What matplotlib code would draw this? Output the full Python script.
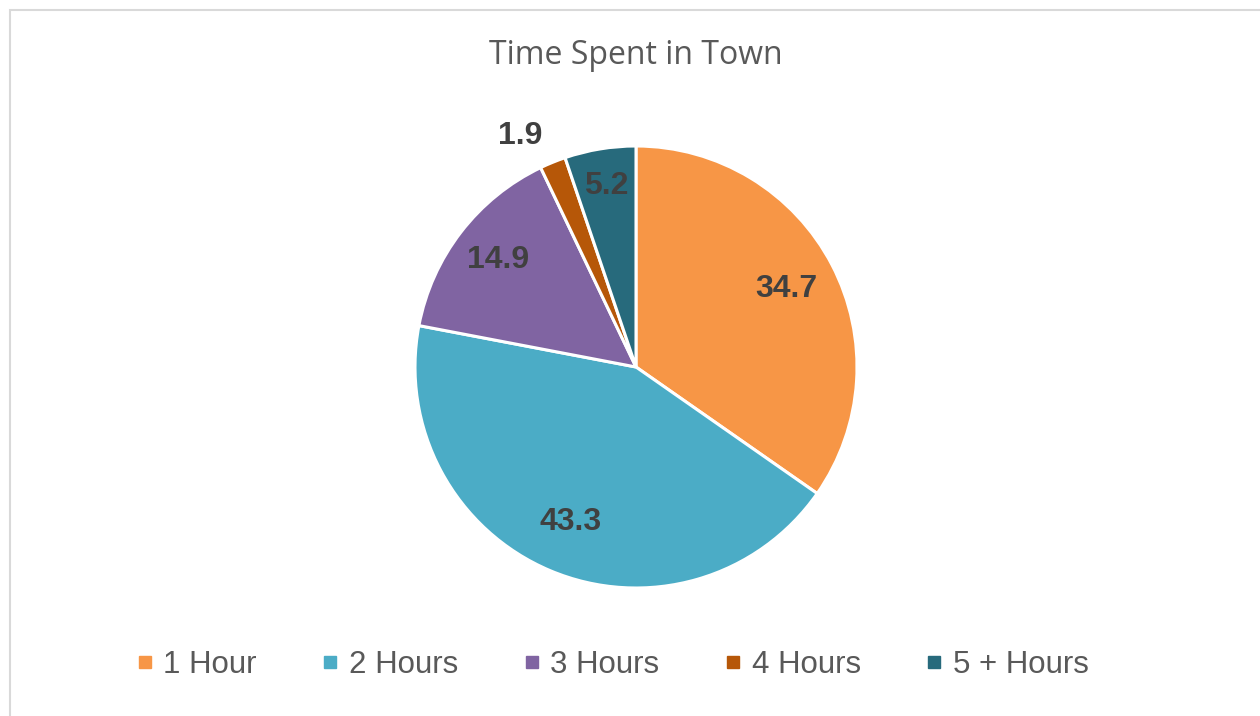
import numpy as np
import matplotlib.pyplot as plt
from matplotlib.patches import Rectangle
from matplotlib.lines import Line2D

categories = ['1 Hour', '2 Hours', '3 Hours', '4 Hours', '5 + Hours']
values = [34.7, 43.3, 14.9, 1.9, 5.2]
colors = ['#F79646', '#4BACC6', '#8064A2', '#B65708', '#276A7C']
label_dist = [0.765, 0.76, 0.79, 1.13, 0.83]
label_ha = ['center', 'center', 'center', 'right', 'center']

fig = plt.figure(figsize=(12.6, 7.16), dpi=100)

# chart frame
fig.patches.append(Rectangle((10 / 1260, -0.1), 1.2, (706 / 716) + 0.1, transform=fig.transFigure,
                             fill=False, edgecolor='#D9D9D9', linewidth=1.5))

ax = fig.add_axes([(636 - 221) / 1260, (716 - 367 - 221) / 716, 442 / 1260, 442 / 716])
wedges, _ = ax.pie(values, colors=colors, startangle=90, counterclock=False,
                   wedgeprops=dict(edgecolor='white', linewidth=2.2))
ax.set_xlim(-1, 1)
ax.set_ylim(-1, 1)

for w, v, d, ha in zip(wedges, values, label_dist, label_ha):
    mid = np.deg2rad((w.theta1 + w.theta2) / 2)
    ax.text(d * np.cos(mid), d * np.sin(mid), f'{v:.1f}', ha=ha, va='center',
            fontsize=23, fontweight='bold', color='#404040', family='Liberation Sans')

fig.text(636 / 1260, 1 - 55 / 716, 'Time Spent in Town', ha='center', va='center',
         fontsize=23, color='#595959', family='Open Sans')

handles = [Line2D([], [], marker='s', linestyle='none', markersize=9, markerfacecolor=c,
                  markeredgecolor=c) for c in colors]
fig.legend(handles, categories, loc='center', bbox_to_anchor=(612 / 1260, 1 - 665 / 716), ncol=5,
           frameon=False, handlelength=0.6, handletextpad=0.3, columnspacing=2.05,
           prop={'family': 'Liberation Sans', 'size': 22.5}, labelcolor='#595959')

fig.savefig('out.png', dpi=100)
